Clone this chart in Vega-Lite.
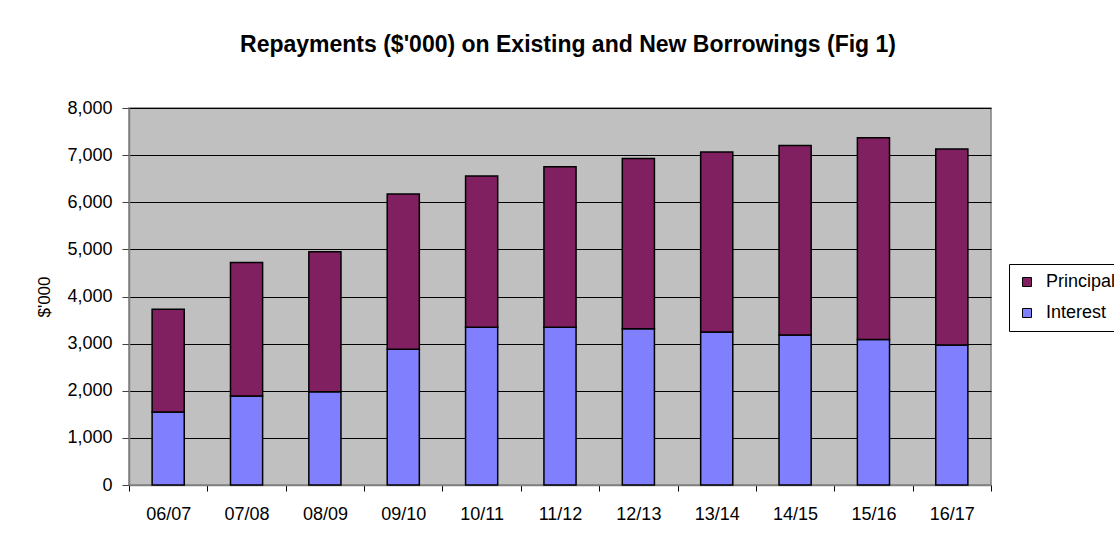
{
  "$schema": "https://vega.github.io/schema/vega-lite/v6.json",
  "width": 862,
  "height": 377,
  "autosize": {"type": "none"},
  "padding": {"left": 129, "top": 108, "right": 123, "bottom": 59},
  "background": "white",
  "title": {
    "text": "Repayments ($'000) on Existing and New Borrowings (Fig 1)",
    "font": "Liberation Sans",
    "fontSize": 23,
    "fontWeight": "bold",
    "color": "black",
    "anchor": "middle",
    "dx": 8,
    "offset": 42
  },
  "data": {
    "values": [
      {"year": "06/07", "series": "Interest", "value": 1550},
      {"year": "06/07", "series": "Principal", "value": 2180},
      {"year": "07/08", "series": "Interest", "value": 1890},
      {"year": "07/08", "series": "Principal", "value": 2830},
      {"year": "08/09", "series": "Interest", "value": 1980},
      {"year": "08/09", "series": "Principal", "value": 2970},
      {"year": "09/10", "series": "Interest", "value": 2880},
      {"year": "09/10", "series": "Principal", "value": 3295},
      {"year": "10/11", "series": "Interest", "value": 3350},
      {"year": "10/11", "series": "Principal", "value": 3205},
      {"year": "11/12", "series": "Interest", "value": 3350},
      {"year": "11/12", "series": "Principal", "value": 3405},
      {"year": "12/13", "series": "Interest", "value": 3315},
      {"year": "12/13", "series": "Principal", "value": 3615},
      {"year": "13/14", "series": "Interest", "value": 3245},
      {"year": "13/14", "series": "Principal", "value": 3820},
      {"year": "14/15", "series": "Interest", "value": 3185},
      {"year": "14/15", "series": "Principal", "value": 4020},
      {"year": "15/16", "series": "Interest", "value": 3085},
      {"year": "15/16", "series": "Principal", "value": 4285},
      {"year": "16/17", "series": "Interest", "value": 2970},
      {"year": "16/17", "series": "Principal", "value": 4160}
    ]
  },
  "mark": {"type": "bar", "width": {"band": 0.41}, "stroke": "black", "strokeWidth": 1.5},
  "encoding": {
    "x": {
      "field": "year",
      "type": "nominal",
      "sort": null,
      "scale": {"paddingInner": 0, "paddingOuter": 0},
      "axis": {
        "title": null,
        "labelAngle": 0,
        "tickBand": "extent",
        "tickSize": 6,
        "tickColor": "black",
        "domainColor": "#808080",
        "domainWidth": 1.5,
        "labelPadding": 14,
        "labelFont": "Liberation Sans",
        "labelFontSize": 18,
        "labelColor": "black"
      }
    },
    "y": {
      "field": "value",
      "type": "quantitative",
      "stack": "zero",
      "scale": {"domain": [0, 8000], "nice": false},
      "axis": {
        "title": "$'000",
        "titleFont": "Liberation Sans",
        "titleFontSize": 17,
        "titleFontWeight": "normal",
        "titleColor": "black",
        "titlePadding": 13,
        "values": [0, 1000, 2000, 3000, 4000, 5000, 6000, 7000, 8000],
        "format": ",d",
        "tickSize": 7,
        "tickColor": "#404040",
        "domainColor": "#808080",
        "domainWidth": 1.5,
        "labelPadding": 10,
        "labelFont": "Liberation Sans",
        "labelFontSize": 18,
        "labelColor": "black",
        "grid": true,
        "gridColor": "black",
        "gridWidth": 1,
        "gridOpacity": 1
      }
    },
    "color": {
      "field": "series",
      "type": "nominal",
      "scale": {"domain": ["Principal", "Interest"], "range": ["#802060", "#8080FF"]},
      "legend": {
        "title": null,
        "orient": "none",
        "legendX": 880,
        "legendY": 156,
        "symbolType": "square",
        "symbolSize": 81,
        "symbolStrokeColor": "black",
        "symbolStrokeWidth": 1,
        "symbolOpacity": 1,
        "labelFont": "Liberation Sans",
        "labelFontSize": 18,
        "labelColor": "black",
        "labelOffset": 10,
        "rowPadding": 13,
        "padding": 9,
        "strokeColor": "black",
        "fillColor": "white"
      }
    },
    "order": {"field": "series", "sort": "ascending"}
  },
  "config": {
    "view": {"fill": "#C0C0C0", "stroke": "#808080", "strokeWidth": 1.5}
  }
}
